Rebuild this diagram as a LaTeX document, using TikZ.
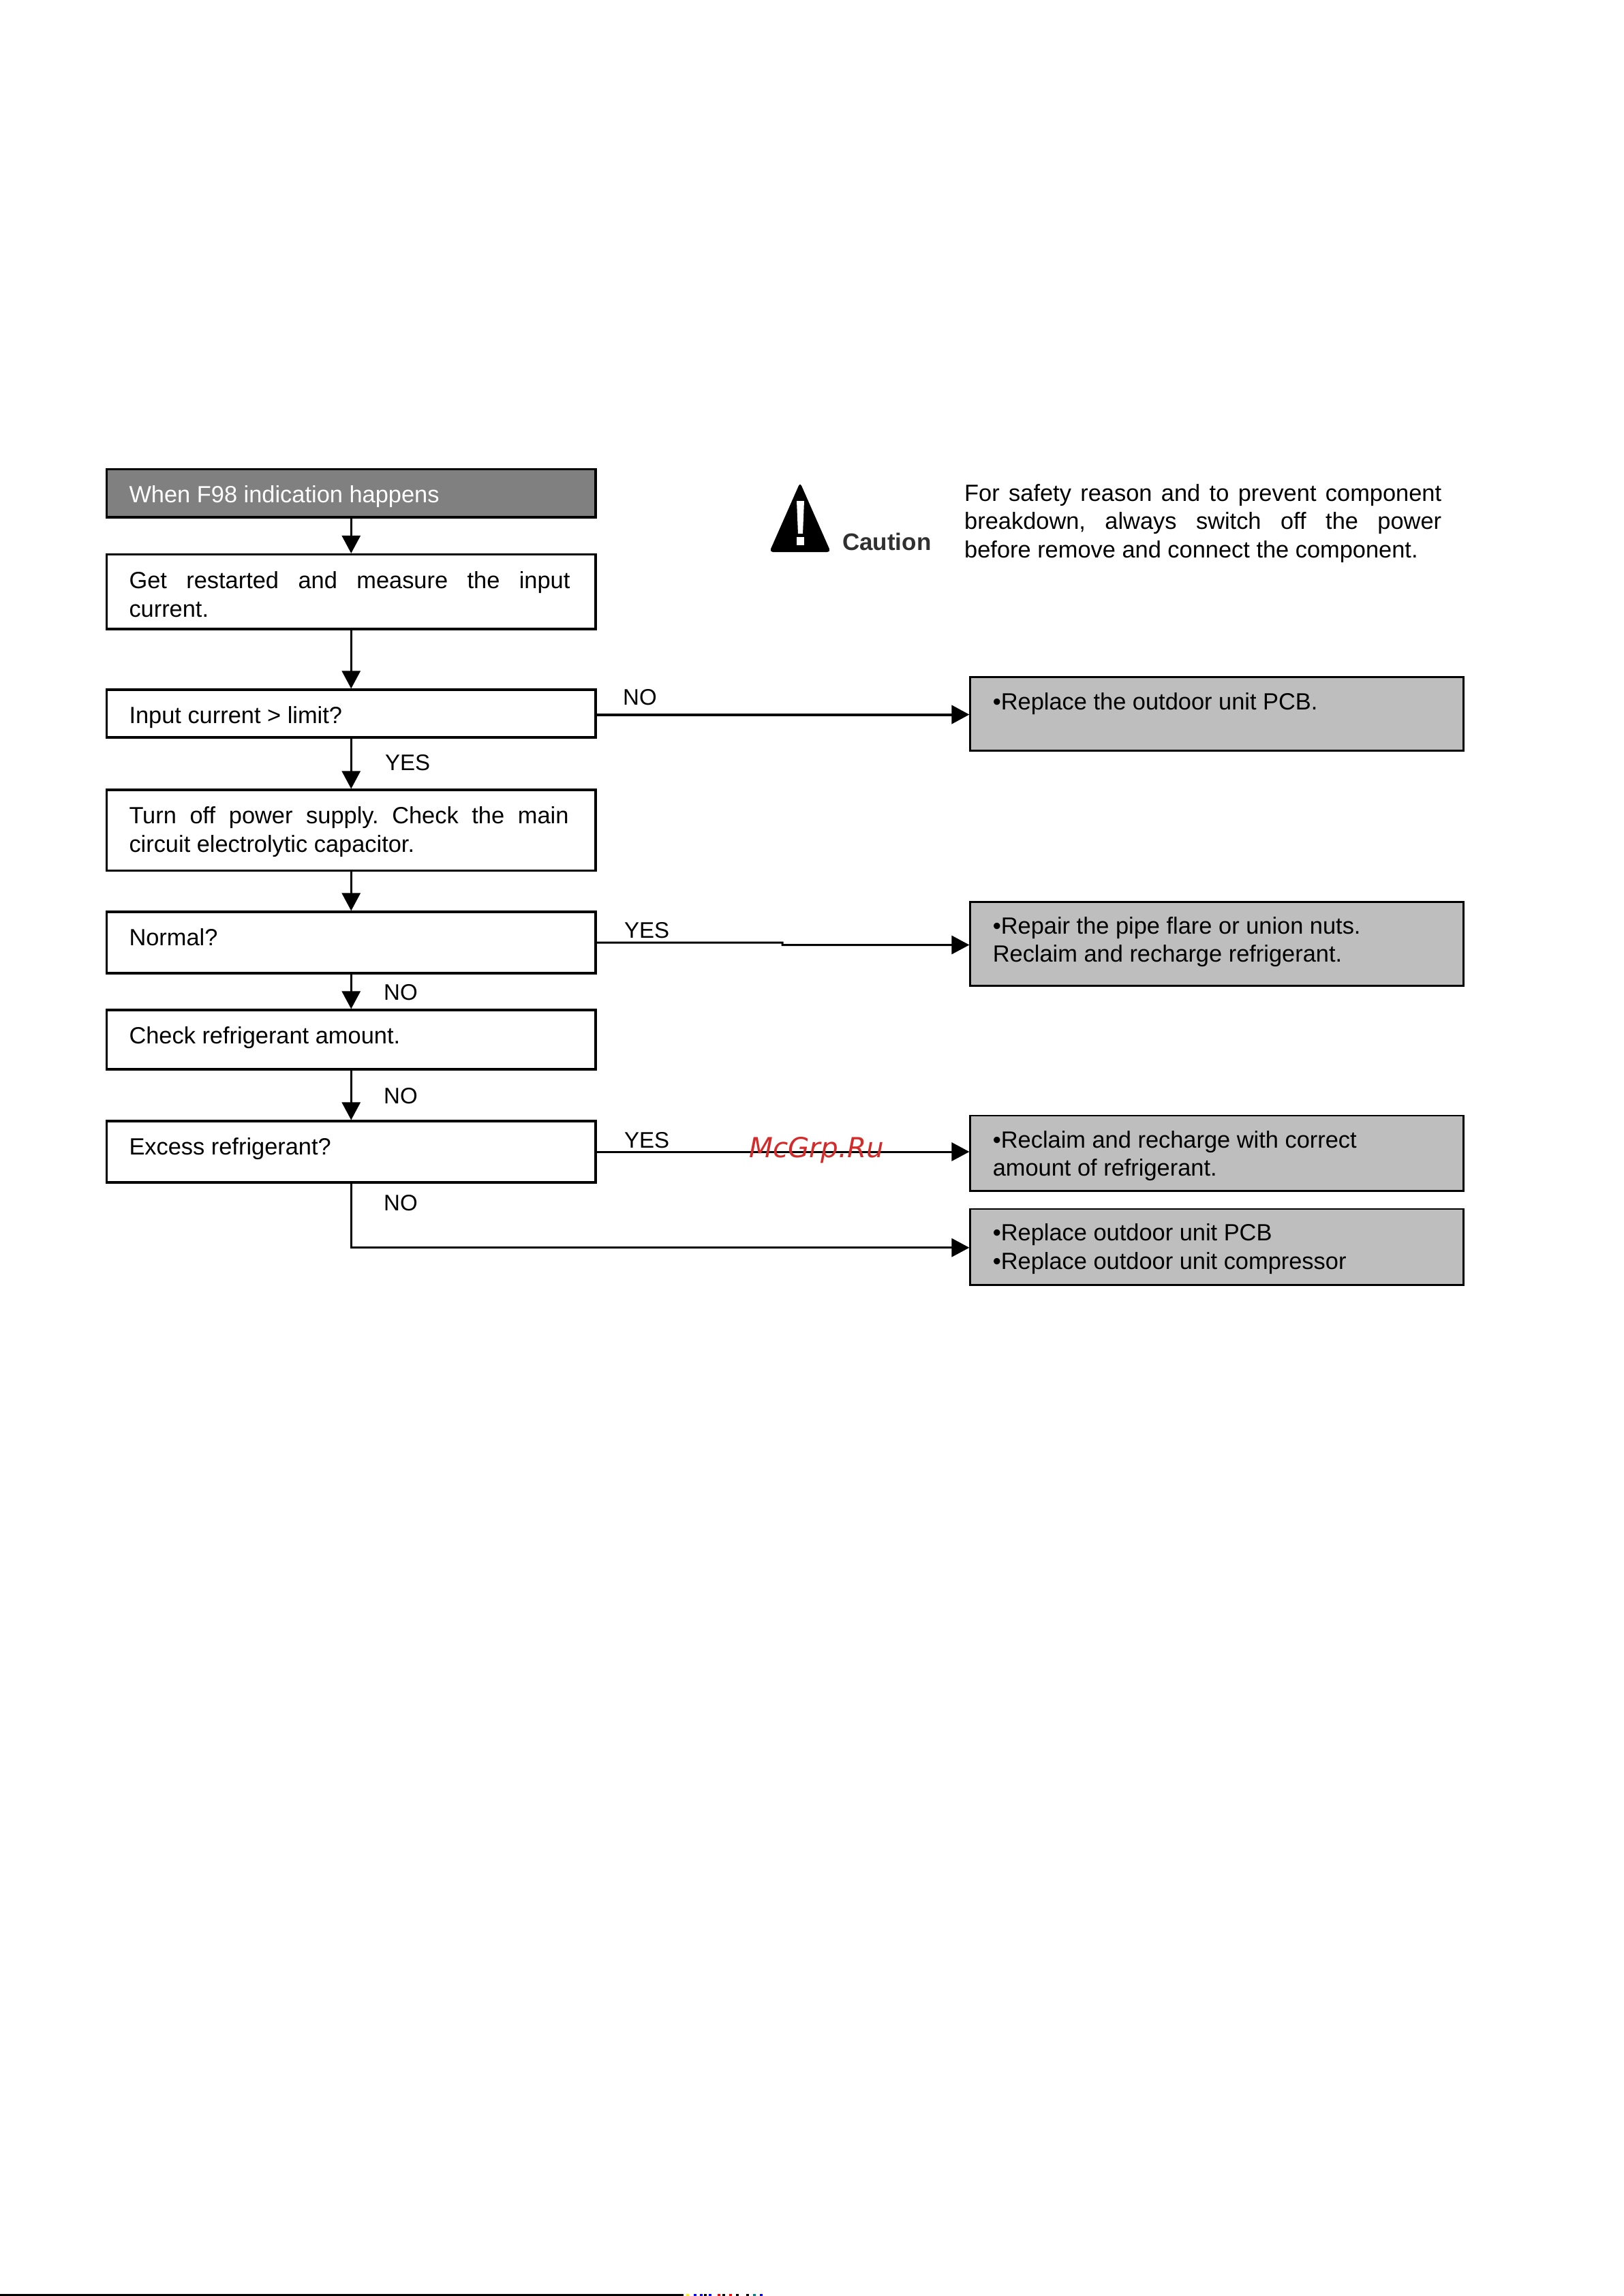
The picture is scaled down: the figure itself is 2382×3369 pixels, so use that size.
\documentclass[tikz,border=0pt]{standalone}
\usepackage{fontspec}
\setmainfont{Liberation Sans}
\newfontfamily\markfont{DejaVu Sans}
\usetikzlibrary{arrows.meta,calc}
\definecolor{headfill}{HTML}{808080}
\definecolor{actfill}{HTML}{BEBEBE}
\definecolor{markred}{HTML}{D42A2A}
\definecolor{cautgray}{HTML}{303030}
\newcommand\boxline[2]{\vskip #1pt\relax\hbox{\hskip 33pt\smash{#2}}}
\newcommand\boxtext[3]{\vbox to #2pt{\hsize=#1pt\offinterlineskip\hbox to #1pt{\hss}#3\vfil}}
\newcommand\just[2]{\makebox[#1pt][s]{#2}}
\frenchspacing
\tikzset{
  x=1pt,y=-1pt,
  every node/.style={font=\frenchspacing\fontsize{34.4}{42}\selectfont,text=black},
  flow/.style={draw=black,line width=3.2pt,inner sep=0pt,anchor=north west,fill=white,xshift=-1.6pt,yshift=1.6pt},
  head/.style={flow,fill=headfill},
  act/.style={flow,fill=actfill,line width=2.8pt},
  lbl/.style={inner sep=0pt,anchor=base west},
  small/.style={lbl,font=\fontsize{33}{40}\selectfont},
  conn/.style={draw=black,line width=3pt,-{Triangle[length=26pt,width=27pt]}}
}
\begin{document}
\begin{tikzpicture}
\useasboundingbox (0,0) rectangle (2382,3369);
\fill[white] (0,0) rectangle (2382,3369);
% left column
\node[head] (b1) at (156.5,688.6) {\boxtext{717.5}{70.4}{\boxline{49}{\textcolor{white}{When F98 indication happens}}}};
\node[flow] (b2) at (156.5,813.5) {\boxtext{717.5}{109.5}{\boxline{49.5}{\just{647}{Get restarted and measure the input}}\boxline{42}{current.}}};
\node[flow] (b3) at (156.5,1012) {\boxtext{717.5}{70}{\boxline{49}{Input current > limit?}}};
\node[flow] (b4) at (156.5,1159) {\boxtext{717.5}{118.5}{\boxline{49}{\just{645}{Turn off power supply. Check the main}}\boxline{42}{circuit electrolytic capacitor.}}};
\node[flow] (b5) at (156.5,1338) {\boxtext{717.5}{90}{\boxline{49}{Normal?}}};
\node[flow] (b6) at (156.5,1482) {\boxtext{717.5}{87}{\boxline{49}{Check refrigerant amount.}}};
\node[flow] (b7) at (156.5,1645) {\boxtext{717.5}{90}{\boxline{49}{Excess refrigerant?}}};
% right column
\node[act] (r1) at (1424,993.6) {\boxtext{723.4}{108.4}{\boxline{48.4}{•Replace the outdoor unit PCB.}}};
\node[act] (r2) at (1424,1323.6) {\boxtext{723.4}{123.4}{\boxline{47.4}{•Repair the pipe flare or union nuts.}\boxline{41}{Reclaim and recharge refrigerant.}}};
\node[act] (r3) at (1424,1637.1) {\boxtext{723.4}{110.9}{\boxline{47.4}{•Reclaim and recharge with correct}\boxline{41}{amount of refrigerant.}}};
\node[act] (r4) at (1424,1774.2) {\boxtext{723.4}{111.4}{\boxline{46.9}{•Replace outdoor unit PCB}\boxline{42}{•Replace outdoor unit compressor}}};
% connectors
\draw[conn] (b1) -- (b2);
\draw[conn] (b2) -- (b3);
\draw[conn] (b3) -- (b4);
\draw[conn] (b4) -- (b5);
\draw[conn] (b5) -- (b6);
\draw[conn] (b6) -- (b7);
\coordinate (noa) at ($(b3.east)+(0,1.5)$);
\draw[conn,line width=4pt] (noa) -- (noa -| r1.west);
\coordinate (stepa) at (1148,1383);
\coordinate (stepb) at (1148,1386.5);
\draw[conn] (b5.east) -- (stepa) -- (stepb) -- (stepb -| r2.west);
\draw[conn] (b7.east) -- (b7.east -| r3.west);
\coordinate (bend) at ($(r4.west)+(0,1)$);
\draw[conn] (b7.south) |- (bend);
% connector labels
\node[small] (l1) at (914,1034) {NO};
\node[small] (l2) at (565,1130) {YES};
\node[small] (l3) at (916,1376) {YES};
\node[small] (l4) at (563,1467) {NO};
\node[small] (l5) at (563,1619) {NO};
\node[small] (l6) at (916,1684) {YES};
\node[small] (l7) at (563,1776) {NO};
% caution sign
\fill[black,rounded corners=5pt] (1174,708) -- (1219,810) -- (1129,810) -- cycle;
\fill[white] (1169,735) -- (1180,735) -- (1178,783) -- (1171,783) -- cycle;
\fill[white] (1169,788) rectangle (1180,800);
\node[lbl] (caut) at (1236,807) {\fontsize{35}{35}\selectfont\bfseries\textcolor{cautgray}{Caution}};
\node[lbl] (warn) at (1415,735) {\vtop{\baselineskip=41.5pt\hbox{\just{700}{For safety reason and to prevent component}}\hbox{\just{700}{breakdown, always switch off the power}}\hbox{before remove and connect the component.}}};
% watermark
\node[lbl] (wm) at (1099,1698) {\markfont\itshape\fontsize{40.5}{40}\selectfont\textcolor{markred}{McGrp.Ru}};
% page-bottom edge
\draw[black,line width=3pt] (0,3367.5) -- (1003,3367.5);
\foreach \xx/\cc in {1007/yellow,1018/blue,1027/blue,1033/black,1040/blue,1053/red,1060/black,1070/red,1080/black,1095/black,1105/teal,1115/blue}
  \fill[\cc] (\xx,3366) rectangle ++(4,3);
\end{tikzpicture}
\end{document}
